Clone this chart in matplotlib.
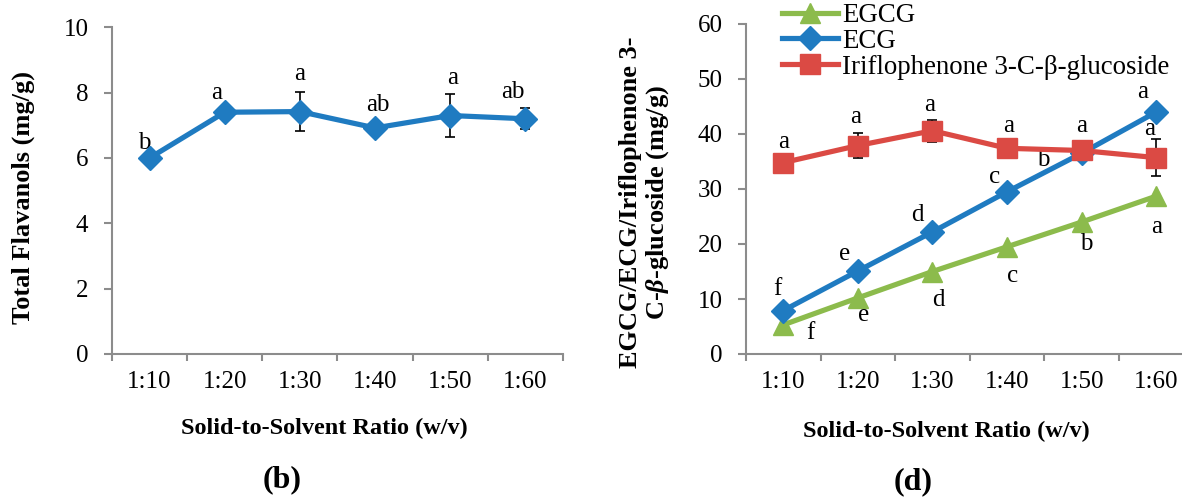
import numpy as np
import matplotlib.pyplot as plt

plt.rcParams['font.family'] = 'Liberation Serif'
plt.rcParams['mathtext.fontset'] = 'custom'
plt.rcParams['mathtext.it'] = 'Liberation Serif:italic:bold'
plt.rcParams['mathtext.rm'] = 'Liberation Serif:bold'

# data
ratios = ['1:10', '1:20', '1:30', '1:40', '1:50', '1:60']
flav = [6.0, 7.4, 7.42, 6.92, 7.3, 7.2]
flav_err = [0.08, 0.1, 0.6, 0.1, 0.65, 0.32]
flav_let = ['b', 'a', 'a', 'ab', 'a', 'ab']

egcg = [5.3, 10.2, 15.0, 19.5, 24.0, 28.7]
egcg_let = ['f', 'e', 'd', 'c', 'b', 'a']
ecg = [7.9, 15.1, 22.2, 29.5, 36.5, 44.0]
ecg_let = ['f', 'e', 'd', 'c', 'b', 'a']
irif = [34.8, 37.9, 40.6, 37.4, 37.0, 35.7]
irif_err = [0.3, 2.3, 2.0, 0.3, 0.4, 3.3]
irif_let = ['a', 'a', 'a', 'a', 'a', 'a']

blue = '#1f7bc1'
green = '#8cbb4c'
red = '#db4a44'
grey = '#8c8c8c'
fs = 18

x = np.arange(len(ratios))
fig = plt.figure(figsize=(11.82, 4.98), dpi=100)
ax1 = fig.add_axes([112 / 1182, 1 - 354 / 498, 451 / 1182, 326.7 / 498])
ax2 = fig.add_axes([746 / 1182, 1 - 354 / 498, 447.6 / 1182, 330 / 498])

def style(ax, ymax, step):
    for s in ['top', 'right']:
        ax.spines[s].set_visible(False)
    for s in ['left', 'bottom']:
        ax.spines[s].set_color(grey)
        ax.spines[s].set_linewidth(1.5)
    ax.set_xlim(-0.5, len(ratios) - 0.5)
    ax.set_ylim(0, ymax)
    ax.set_yticks(np.arange(0, ymax + 1, step))
    ax.set_xticks(np.arange(-0.5, len(ratios), 1.0))
    ax.set_xticklabels([])
    ax.set_xticks(x, minor=True)
    ax.set_xticklabels(ratios, minor=True)
    ax.tick_params(axis='x', which='major', length=5, color=grey, width=1.5)
    ax.tick_params(axis='x', which='minor', length=0, pad=12, labelsize=fs)
    ax.tick_params(axis='y', length=6, color=grey, width=1.5, labelsize=fs, pad=11)

# (b)
style(ax1, 10, 2)
ax1.errorbar(x, flav, yerr=flav_err, fmt='none', ecolor='black', elinewidth=1.2,
             capsize=3.6, capthick=1.2, zorder=3)
ax1.plot(x, flav, color=blue, lw=3.75, marker='D', ms=12, zorder=4)
offs1 = [(-5, 15), (-8, 19), (0, 38), (3, 23), (2, 38), (-13, 27)]
for i in range(len(x)):
    ax1.annotate(flav_let[i], (x[i], flav[i]), xytext=offs1[i], textcoords='offset pixels',
                 ha='center', va='center', fontsize=fs)
ax1.set_ylabel('Total Flavanols (mg/g)', fontsize=19, fontweight='bold', va='center')
ax1.yaxis.set_label_coords(-0.197, 0.479)
ax1.set_xlabel('Solid-to-Solvent Ratio (w/v)', fontsize=17.5, fontweight='bold', va='center')
ax1.xaxis.set_label_coords(0.472, -0.2265)

# (d)
style(ax2, 60, 10)
ax2.plot(x, egcg, color=green, lw=3.75, marker='^', ms=14, label='EGCG', zorder=3)
ax2.plot(x, ecg, color=blue, lw=3.75, marker='D', ms=12, label='ECG', zorder=4)
ax2.errorbar(x, irif, yerr=irif_err, fmt='none', ecolor='black', elinewidth=1.2,
             capsize=3.6, capthick=1.2, zorder=5)
ax2.plot(x, irif, color=red, lw=3.75, marker='s', ms=14,
         label='Iriflophenone 3-C-\u03b2-glucoside', zorder=6)
offs_ecg = [(-6, 22), (-13, 17), (-15, 17), (-13, 15), (-38, -7), (-14, 20)]
offs_egcg = [(27, -8), (6, -17), (6, -29), (5, -29), (5, -22), (0, -31)]
offs_irif = [(0, 21), (-2, 29), (-3, 26), (2, 22), (0, 24), (-7, 29)]
for i in range(len(x)):
    ax2.annotate(ecg_let[i], (x[i], ecg[i]), xytext=offs_ecg[i], textcoords='offset pixels',
                 ha='center', va='center', fontsize=fs)
    ax2.annotate(egcg_let[i], (x[i], egcg[i]), xytext=offs_egcg[i], textcoords='offset pixels',
                 ha='center', va='center', fontsize=fs)
    ax2.annotate(irif_let[i], (x[i], irif[i]), xytext=offs_irif[i], textcoords='offset pixels',
                 ha='center', va='center', fontsize=fs)
ax2.set_ylabel('EGCG/ECG/Iriflophenone 3-\nC-$\\beta$-glucoside (mg/g)', fontsize=19,
               fontweight='bold', va='center', linespacing=1.15)
ax2.yaxis.set_label_coords(-0.2256, 0.46)
ax2.set_xlabel('Solid-to-Solvent Ratio (w/v)', fontsize=17.5, fontweight='bold', va='center')
ax2.xaxis.set_label_coords(0.447, -0.236)
ax2.legend(loc='upper left', bbox_to_anchor=(782 / 1182, 0.994), bbox_transform=fig.transFigure,
           frameon=False, fontsize=19.4, handlelength=2.07, handletextpad=0.15,
           labelspacing=0.03, borderpad=0, borderaxespad=0)

fig.text(282 / 1182, 1 - 480 / 498, '(b)', fontsize=23, fontweight='bold', ha='center', va='center')
fig.text(913 / 1182, 1 - 482 / 498, '(d)', fontsize=23, fontweight='bold', ha='center', va='center')

fig.savefig('out.png', dpi=100)
